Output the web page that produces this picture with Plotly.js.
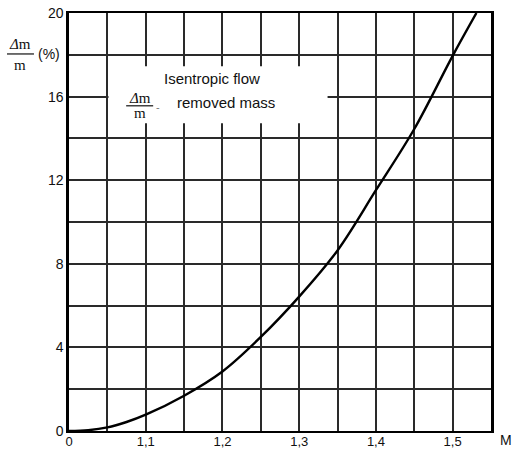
<!DOCTYPE html>
<html>
<head>
<meta charset="utf-8">
<script src="https://cdn.plot.ly/plotly-3.0.1.min.js"></script>
<style>html,body{margin:0;padding:0;background:#fff;}#chart{width:513px;height:450px;}</style>
</head>
<body>
<div id="chart"></div>
<script>
// Data
const machNumber = [1.0, 1.025, 1.05, 1.075, 1.1, 1.15, 1.2, 1.25, 1.3, 1.35, 1.4, 1.45, 1.5, 1.531];
const removedMassPct = [0, 0.04, 0.17, 0.43, 0.78, 1.69, 2.85, 4.5, 6.43, 8.64, 11.52, 14.45, 17.95, 20];

const xTickVals = [1.0, 1.05, 1.1, 1.15, 1.2, 1.25, 1.3, 1.35, 1.4, 1.45, 1.5, 1.55];
const xTickText = ["0", "", "1,1", "", "1,2", "", "1,3", "", "1,4", "", "1,5", ""];
const yTickVals = [0, 2, 4, 6, 8, 10, 12, 14, 16, 18, 20];
const yTickText = ["0", "", "4", "", "8", "", "12", "", "16", "", "20"];

const sans = "Liberation Sans, Arial, sans-serif";
const serif = "Liberation Serif, Times New Roman, serif";
const ink = "#111";

const trace = {
  x: machNumber, y: removedMassPct, type: "scatter", mode: "lines",
  line: {color: "#000", width: 2.4, shape: "spline", smoothing: 1},
  hoverinfo: "skip", cliponaxis: false
};

const layout = {
  width: 513, height: 450,
  margin: {l: 69, r: 22, t: 13, b: 19, autoexpand: false},
  paper_bgcolor: "#fff", plot_bgcolor: "#fff",
  showlegend: false,
  font: {family: sans, size: 14, color: ink},
  xaxis: {
    range: [1.0, 1.55], tickmode: "array", tickvals: xTickVals, ticktext: xTickText,
    showgrid: true, gridcolor: "#2a2a2a", gridwidth: 2,
    showline: true, mirror: true, linecolor: "#000", linewidth: 2,
    zeroline: false, ticks: "", automargin: false, fixedrange: true,
    ticklabelstandoff: -3,
    tickfont: {family: sans, size: 13, color: ink}
  },
  yaxis: {
    range: [0, 20], tickmode: "array", tickvals: yTickVals, ticktext: yTickText,
    showgrid: true, gridcolor: "#2a2a2a", gridwidth: 2,
    showline: true, mirror: true, linecolor: "#000", linewidth: 2.6,
    zeroline: false, ticks: "", automargin: false, fixedrange: true,
    tickfont: {family: sans, size: 14, color: ink}
  },
  shapes: [
    {type: "rect", xref: "x", yref: "y", x0: 1.0515, x1: 1.337, y0: 14.72, y1: 17.45,
     fillcolor: "#fff", line: {width: 0}, layer: "between"},
    // fraction bar of the axis title
    {type: "line", xref: "paper", yref: "paper", x0: -0.147, x1: -0.083, y0: 0.902, y1: 0.902,
     line: {color: ink, width: 1.2}},
    // fraction bar inside the box
    {type: "line", xref: "x", yref: "y", x0: 1.0745, x1: 1.1097, y0: 15.56, y1: 15.56,
     line: {color: ink, width: 1.2}, layer: "above"}
  ],
  annotations: [
    {xref: "paper", yref: "paper", x: -0.116, y: 0.927, text: "<i>Δ</i>m", showarrow: false,
     font: {family: serif, size: 15, color: ink}, xanchor: "center", yanchor: "middle"},
    {xref: "paper", yref: "paper", x: -0.116, y: 0.876, text: "m", showarrow: false,
     font: {family: serif, size: 15, color: ink}, xanchor: "center", yanchor: "middle"},
    {xref: "paper", yref: "paper", x: -0.047, y: 0.902, text: "(%)", showarrow: false,
     font: {family: sans, size: 14, color: ink}, xanchor: "center", yanchor: "middle"},
    {xref: "x", yref: "y", x: 1.186, y: 16.86, text: "Isentropic flow", showarrow: false,
     font: {family: sans, size: 15, color: ink}, xanchor: "center", yanchor: "middle"},
    {xref: "x", yref: "y", x: 1.2044, y: 15.7, text: "removed mass", showarrow: false,
     font: {family: sans, size: 15, color: ink}, xanchor: "center", yanchor: "middle"},
    {xref: "x", yref: "y", x: 1.0921, y: 15.95, text: "<i>Δ</i>m", showarrow: false,
     font: {family: serif, size: 15, color: ink}, xanchor: "center", yanchor: "middle"},
    {xref: "x", yref: "y", x: 1.0921, y: 15.2, text: "m", showarrow: false,
     font: {family: serif, size: 15, color: ink}, xanchor: "center", yanchor: "middle"},
    {xref: "x", yref: "y", x: 1.1165, y: 15.5, text: "-", showarrow: false,
     font: {family: sans, size: 11, color: "#777"}, xanchor: "center", yanchor: "middle"},
    {xref: "paper", yref: "paper", x: 1.0355, y: -0.022, text: "M", showarrow: false,
     font: {family: sans, size: 14, color: ink}, xanchor: "center", yanchor: "middle"}
  ]
};

Plotly.newPlot("chart", [trace], layout, {staticPlot: true, displayModeBar: false});
</script>
</body>
</html>
